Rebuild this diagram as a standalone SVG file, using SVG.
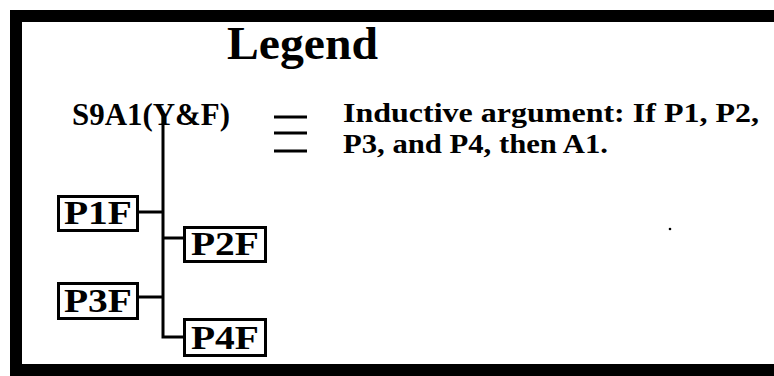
<svg xmlns="http://www.w3.org/2000/svg" width="774" height="376" viewBox="0 0 774 376">
<style>
  .t { font-family: "Liberation Serif", "Times New Roman", serif; font-weight: bold; fill: #000; }
  .box rect { fill: #fff; stroke: #000; stroke-width: 3; }
  .box text { font-size: 33px; text-anchor: middle; }
  .conn { fill: none; stroke: #000; stroke-width: 3; }
</style>
<rect x="0" y="0" width="774" height="376" fill="#fff"/>
<rect x="16" y="16" width="800" height="354" fill="#fff" stroke="#000" stroke-width="12"/>
<g id="title"><text class="t" x="227" y="59" font-size="47" textLength="151" lengthAdjust="spacingAndGlyphs">Legend</text></g>
<g id="conclusion"><text class="t" x="72" y="125" font-size="32" textLength="158" lengthAdjust="spacingAndGlyphs">S9A1(Y&amp;F)</text></g>
<g id="equiv" stroke="#000" stroke-width="3">
  <line x1="274" y1="117" x2="307" y2="117"/>
  <line x1="274" y1="133" x2="307" y2="133"/>
  <line x1="274" y1="151" x2="307" y2="151"/>
</g>
<g id="description">
  <text class="t" x="343" y="122" font-size="28" textLength="416" lengthAdjust="spacingAndGlyphs">Inductive argument: If P1, P2,</text>
  <text class="t" x="343" y="153" font-size="28" textLength="265" lengthAdjust="spacingAndGlyphs">P3, and P4, then A1.</text>
</g>
<g id="connectors" class="conn">
  <path d="M163 113 V337 H183"/>
  <path d="M139 212 H163"/>
  <path d="M163 238 H183"/>
  <path d="M139 297 H163"/>
</g>
<g id="P1F" class="box"><rect x="58.5" y="196.5" width="79" height="34"/><text class="t" x="98" y="224" textLength="68" lengthAdjust="spacingAndGlyphs">P1F</text></g>
<g id="P2F" class="box"><rect x="184.5" y="227.5" width="81" height="34"/><text class="t" x="225" y="255" textLength="68" lengthAdjust="spacingAndGlyphs">P2F</text></g>
<g id="P3F" class="box"><rect x="58.5" y="283.5" width="79" height="35"/><text class="t" x="98" y="312" textLength="68" lengthAdjust="spacingAndGlyphs">P3F</text></g>
<g id="P4F" class="box"><rect x="184.5" y="319.5" width="81" height="36"/><text class="t" x="225" y="349" textLength="68" lengthAdjust="spacingAndGlyphs">P4F</text></g>
<circle cx="670" cy="229" r="1.3" fill="#000"/>
</svg>
